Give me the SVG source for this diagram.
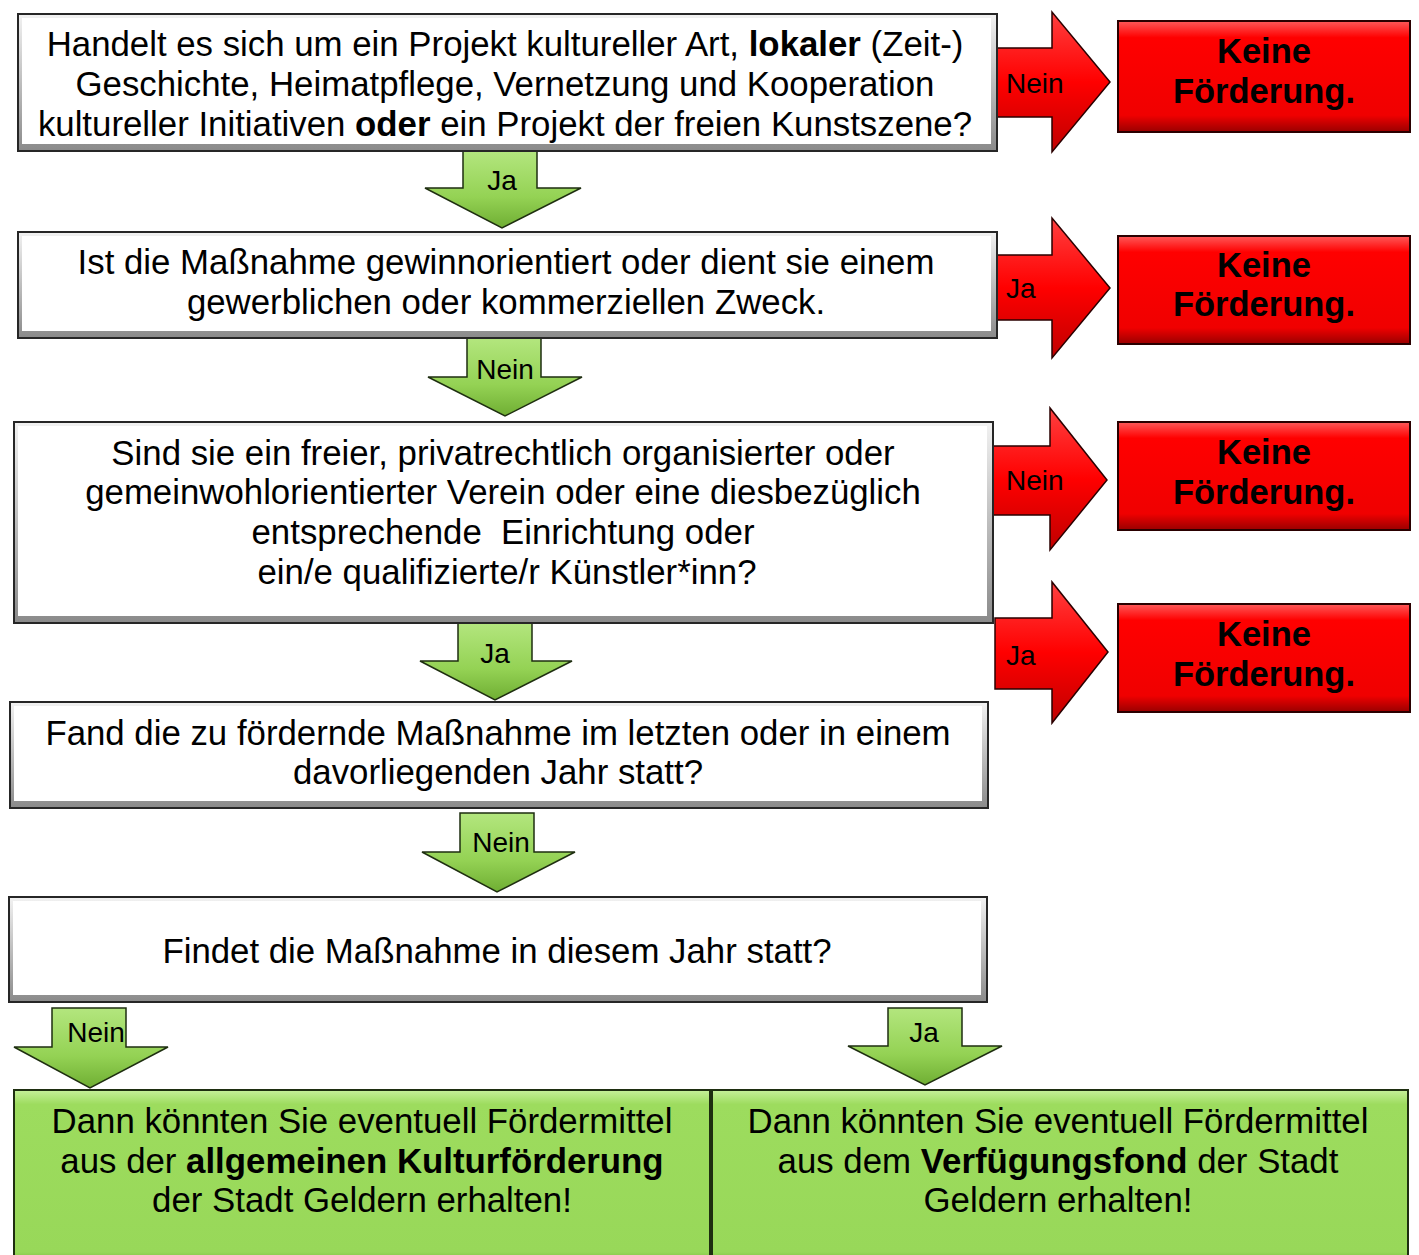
<svg xmlns="http://www.w3.org/2000/svg" width="1419" height="1255" viewBox="0 0 1419 1255">
<defs>
<linearGradient id="gW" x1="0" y1="0" x2="0" y2="1">
<stop offset="0" stop-color="#f2f2f2"/><stop offset="1" stop-color="#8a8a8a"/>
</linearGradient>
<linearGradient id="gR" x1="0" y1="0" x2="0" y2="1">
<stop offset="0" stop-color="#ff5a5a"/><stop offset="0.15" stop-color="#ff0000"/><stop offset="0.85" stop-color="#f00000"/><stop offset="1" stop-color="#990000"/>
</linearGradient>
<linearGradient id="gG" x1="0" y1="0" x2="0" y2="1">
<stop offset="0" stop-color="#c6f09a"/><stop offset="0.08" stop-color="#9ddc5e"/><stop offset="0.9" stop-color="#98d859"/><stop offset="1" stop-color="#5f9a28"/>
</linearGradient>
<linearGradient id="gGA" x1="0" y1="0" x2="0" y2="1">
<stop offset="0" stop-color="#b3e67e"/><stop offset="0.6" stop-color="#94d254"/><stop offset="1" stop-color="#6fae33"/>
</linearGradient>
<linearGradient id="gRA" x1="0" y1="0" x2="0" y2="1">
<stop offset="0" stop-color="#ff4040"/><stop offset="0.5" stop-color="#ff0000"/><stop offset="1" stop-color="#c00000"/>
</linearGradient>
</defs>
<style>
text{font-family:"Liberation Sans",Arial,sans-serif;fill:#000;white-space:pre}
.q{font-size:34.8px;text-anchor:middle}
.r{font-size:34.5px;font-weight:bold;text-anchor:middle}
.l{font-size:28px}
.lc{font-size:28px;text-anchor:middle}
.wo{fill:url(#gW);stroke:#262626;stroke-width:2}
.wi{fill:#fff}
.ro{fill:url(#gR);stroke:#2a0000;stroke-width:2}
.go{fill:url(#gG);stroke:#1e2e10;stroke-width:2}
.ra{fill:url(#gRA);stroke:#2a0000;stroke-width:1.5}
.ga{fill:url(#gGA);stroke:#1e2e10;stroke-width:1.5}
</style>
<rect width="1419" height="1255" fill="#fff"/>

<g id="connectors">
<polygon class="ga" points="463,151 537,151 537,188 581,188 502,228 425,188 463,188"/>
<polygon class="ga" points="467,338 541,338 541,377 582,377 505,416 428,377 467,377"/>
<polygon class="ga" points="458,623 532,623 532,661 572,661 495,700 420,661 458,661"/>
<polygon class="ga" points="460,813 534,813 534,852 575,852 497,892 422,852 460,852"/>
<polygon class="ga" points="52,1008 126,1008 126,1047 168,1047 90,1088 14,1047 52,1047"/>
<polygon class="ga" points="888,1008 962,1008 962,1046 1002,1046 925,1085 848,1046 888,1046"/>
<polygon class="ra" points="997,48 1052,48 1052,12 1110,82 1052,152 1052,117 997,117"/>
<polygon class="ra" points="997,255 1052,255 1052,218 1110,288 1052,358 1052,320 997,320"/>
<polygon class="ra" points="993,446 1050,446 1050,408 1107,480 1050,550 1050,515 993,515"/>
<polygon class="ra" points="995,618 1052,618 1052,582 1108,652 1052,723 1052,689 995,689"/>
<text class="lc" x="502" y="190">Ja</text>
<text class="lc" x="505" y="379">Nein</text>
<text class="lc" x="495" y="663">Ja</text>
<text class="lc" x="501" y="852">Nein</text>
<text class="lc" x="96" y="1042">Nein</text>
<text class="lc" x="924" y="1042">Ja</text>
<text class="l" x="1006" y="93">Nein</text>
<text class="l" x="1006" y="298">Ja</text>
<text class="l" x="1006" y="490">Nein</text>
<text class="l" x="1006" y="665">Ja</text>
</g>

<g id="q1">
<rect class="wo" x="18" y="14" width="979" height="137"/>
<rect class="wi" x="22" y="18" width="969" height="126"/>
<text class="q" x="505" y="56">Handelt es sich um ein Projekt kultureller Art, <tspan font-weight="bold">lokaler</tspan> (Zeit-)</text>
<text class="q" x="505" y="96">Geschichte, Heimatpflege, Vernetzung und Kooperation</text>
<text class="q" x="505" y="136">kultureller Initiativen <tspan font-weight="bold">oder</tspan> ein Projekt der freien Kunstszene?</text>
</g>

<g id="q2">
<rect class="wo" x="18" y="232" width="979" height="106"/>
<rect class="wi" x="22" y="236" width="969" height="95"/>
<text class="q" x="506" y="274">Ist die Maßnahme gewinnorientiert oder dient sie einem</text>
<text class="q" x="506" y="314">gewerblichen oder kommerziellen Zweck.</text>
</g>

<g id="q3">
<rect class="wo" x="14" y="422" width="979" height="201"/>
<rect class="wi" x="18" y="426" width="969" height="190"/>
<text class="q" x="503" y="465">Sind sie ein freier, privatrechtlich organisierter oder</text>
<text class="q" x="503" y="504">gemeinwohlorientierter Verein oder eine diesbezüglich</text>
<text class="q" x="503" y="544">entsprechende  Einrichtung oder</text>
<text class="q" x="507" y="584">ein/e qualifizierte/r Künstler*inn?</text>
</g>

<g id="q4">
<rect class="wo" x="10" y="702" width="978" height="106"/>
<rect class="wi" x="14" y="706" width="968" height="95"/>
<text class="q" x="498" y="745">Fand die zu fördernde Maßnahme im letzten oder in einem</text>
<text class="q" x="498" y="784">davorliegenden Jahr statt?</text>
</g>

<g id="q5">
<rect class="wo" x="9" y="897" width="978" height="105"/>
<rect class="wi" x="13" y="901" width="968" height="94"/>
<text class="q" x="497" y="963">Findet die Maßnahme in diesem Jahr statt?</text>
</g>

<g id="no1">
<rect class="ro" x="1118" y="21" width="292" height="111"/>
<text class="r" x="1264" y="63">Keine</text>
<text class="r" x="1264" y="103">Förderung.</text>
</g>
<g id="no2">
<rect class="ro" x="1118" y="236" width="292" height="108"/>
<text class="r" x="1264" y="277">Keine</text>
<text class="r" x="1264" y="316">Förderung.</text>
</g>
<g id="no3">
<rect class="ro" x="1118" y="422" width="292" height="108"/>
<text class="r" x="1264" y="464">Keine</text>
<text class="r" x="1264" y="504">Förderung.</text>
</g>
<g id="no4">
<rect class="ro" x="1118" y="604" width="292" height="108"/>
<text class="r" x="1264" y="646">Keine</text>
<text class="r" x="1264" y="686">Förderung.</text>
</g>

<g id="res1">
<rect class="go" x="14" y="1090" width="696" height="180"/>
<text class="q" x="362" y="1133">Dann könnten Sie eventuell Fördermittel</text>
<text class="q" x="362" y="1173">aus der <tspan font-weight="bold">allgemeinen Kulturförderung</tspan></text>
<text class="q" x="362" y="1212">der Stadt Geldern erhalten!</text>
</g>
<g id="res2">
<rect class="go" x="712" y="1090" width="696" height="180"/>
<text class="q" x="1058" y="1133">Dann könnten Sie eventuell Fördermittel</text>
<text class="q" x="1058" y="1173">aus dem <tspan font-weight="bold">Verfügungsfond</tspan> der Stadt</text>
<text class="q" x="1058" y="1212">Geldern erhalten!</text>
</g>
</svg>
